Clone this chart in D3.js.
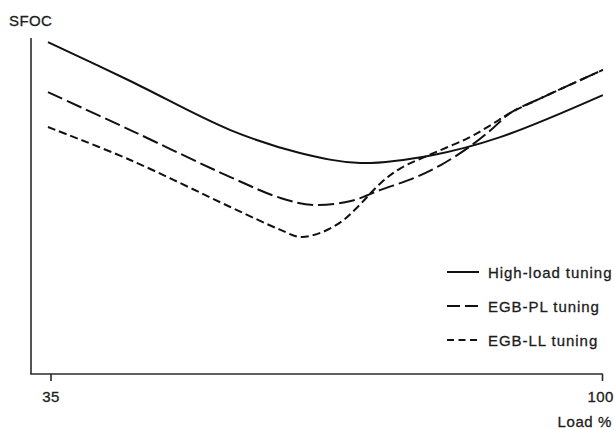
<!DOCTYPE html>
<html>
<head>
<meta charset="utf-8">
<script src="https://cdn.jsdelivr.net/npm/d3@7"></script>
<style>
  html, body { margin: 0; padding: 0; background: #ffffff; }
  svg { display: block; }
  text { font-family: "Liberation Sans", Arial, Helvetica, sans-serif; fill: #1c1c1c; stroke: #1c1c1c; stroke-width: 0.3px; }
</style>
</head>
<body>
<svg id="chart" width="614" height="429"></svg>
<script>
// ---- Data (load %, relative SFOC; y axis has no scale) ----
const seriesNames = ["High-load tuning", "EGB-PL tuning", "EGB-LL tuning"];
const xTickValues = [35, 100];
const xTickLabels = ["35", "100"];
const xTitle = "Load %";
const yTitle = "SFOC";

const highLoadLoad = [34.7, 44.4, 56.2, 64.4, 71.5, 80.1, 88.0, 100.1];
const highLoadSFOC = [98.8, 87.2, 72.6, 65.8, 62.8, 65.2, 70.5, 83.0];

const egbPLLoad = [34.7, 44.4, 56.2, 62.1, 66.0, 70.4, 73.9, 77.8, 81.0, 84.2, 86.9, 89.2, 92.8, 100.1];
const egbPLSFOC = [83.9, 72.6, 58.6, 52.4, 50.3, 51.5, 54.8, 58.3, 62.2, 67.3, 72.6, 77.7, 82.1, 90.5];

const egbLLLoad = [34.7, 44.4, 56.2, 62.1, 64.4, 66.8, 69.2, 71.2, 73.9, 76.3, 80.2, 84.2, 86.9, 89.2, 92.8, 100.1];
const egbLLSFOC = [73.5, 63.7, 49.7, 42.9, 40.8, 42.0, 45.2, 49.7, 56.8, 61.3, 65.8, 70.2, 74.1, 77.7, 82.1, 90.5];

// ---- Layout ----
const svg = d3.select("#chart");
const axisX0 = 31;      // y-axis position
const plotTop = 38;
const plotBottom = 374;

const x = d3.scaleLinear().domain([35, 100]).range([50.5, 602]);
const y = d3.scaleLinear().domain([0, 100]).range([plotBottom, plotTop]);

const axisColor = "#2a2a2a";

// Y axis (no ticks)
svg.append("line")
  .attr("x1", axisX0).attr("x2", axisX0)
  .attr("y1", y(100)).attr("y2", y(0))
  .attr("stroke", axisColor).attr("stroke-width", 1.6);

// X axis baseline from y-axis to last tick
svg.append("line")
  .attr("x1", axisX0 - 0.8).attr("x2", x(100) + 0.8)
  .attr("y1", y(0)).attr("y2", y(0))
  .attr("stroke", axisColor).attr("stroke-width", 1.6);

const xAxis = d3.axisBottom(x)
  .tickValues(xTickValues)
  .tickFormat((d, i) => xTickLabels[i])
  .tickSizeInner(7)
  .tickSizeOuter(0)
  .tickPadding(10);

const gx = svg.append("g")
  .attr("transform", `translate(0,${y(0)})`)
  .call(xAxis);
gx.select(".domain").remove();
gx.selectAll(".tick line").attr("stroke", axisColor).attr("stroke-width", 1.6);
gx.selectAll(".tick text")
  .attr("font-size", 15)
  .attr("fill", "#1c1c1c")
  .style("font-family", "'Liberation Sans', Arial, sans-serif")
  .style("letter-spacing", "0.4px");
gx.selectAll(".tick text").filter(d => d === 100).attr("dx", "-2");

// Axis titles
svg.append("text")
  .attr("x", 9).attr("y", 26)
  .attr("font-size", 15)
  .style("letter-spacing", "0.4px")
  .text(yTitle);

svg.append("text")
  .attr("x", 612).attr("y", 427)
  .attr("text-anchor", "end")
  .attr("font-size", 15)
  .style("letter-spacing", "0.6px")
  .text(xTitle);

// ---- Lines ----
const series = [
  { name: seriesNames[0], xs: highLoadLoad, ys: highLoadSFOC, dash: null, legendDash: null },
  { name: seriesNames[1], xs: egbPLLoad, ys: egbPLSFOC, dash: "16,5", legendDash: "13,5" },
  { name: seriesNames[2], xs: egbLLLoad, ys: egbLLSFOC, dash: "8,4", legendDash: "7,4.5" }
];

const line = d3.line()
  .x(d => x(d[0]))
  .y(d => y(d[1]))
  .curve(d3.curveCatmullRom.alpha(0.5));

series.forEach(s => {
  const pts = s.xs.map((v, i) => [v, s.ys[i]]);
  svg.append("path")
    .datum(pts)
    .attr("d", line)
    .attr("fill", "none")
    .attr("stroke", "#111")
    .attr("stroke-width", 2)
    .attr("stroke-dasharray", s.dash);
});

// ---- Legend ----
const legendY = [272, 306, 340];
const legend = svg.append("g");
series.forEach((s, i) => {
  legend.append("line")
    .attr("x1", 447).attr("x2", 479)
    .attr("y1", legendY[i]).attr("y2", legendY[i])
    .attr("stroke", "#111")
    .attr("stroke-width", 2)
    .attr("stroke-dasharray", s.legendDash);
  legend.append("text")
    .attr("x", 488).attr("y", legendY[i] + 5.5)
    .attr("font-size", 15)
    .style("letter-spacing", "0.95px")
    .text(s.name);
});
</script>
</body>
</html>
